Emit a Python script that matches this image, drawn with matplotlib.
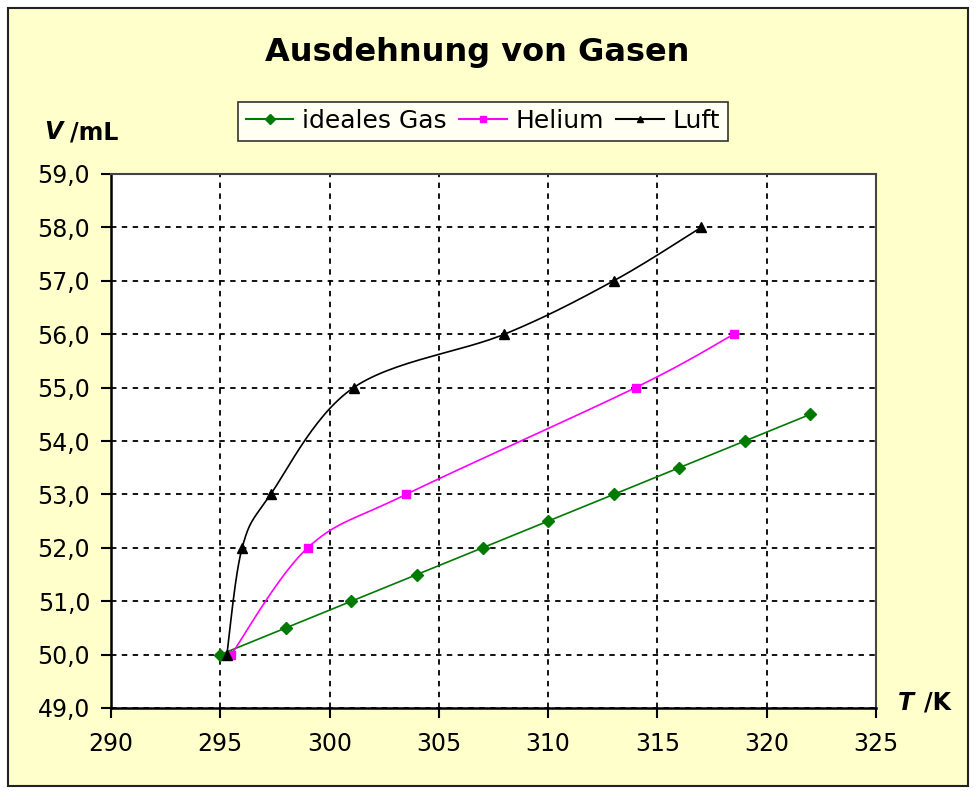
import numpy as np
import matplotlib
matplotlib.use("Agg")
import matplotlib.pyplot as plt
from matplotlib.patches import Rectangle

# ---- data ----
ideal_T = [295, 298, 301, 304, 307, 310, 313, 316, 319, 322]
ideal_V = [50.0, 50.5, 51.0, 51.5, 52.0, 52.5, 53.0, 53.5, 54.0, 54.5]
helium_T = [295.5, 299.0, 303.5, 314.0, 318.5]
helium_V = [50.0, 52.0, 53.0, 55.0, 56.0]
luft_T = [295.3, 296.0, 297.3, 301.1, 308.0, 313.0, 317.0]
luft_V = [50.0, 52.0, 53.0, 55.0, 56.0, 57.0, 58.0]
x_ticks = [290, 295, 300, 305, 310, 315, 320, 325]
y_ticks = [49, 50, 51, 52, 53, 54, 55, 56, 57, 58, 59]
y_tick_labels = ["49,0", "50,0", "51,0", "52,0", "53,0", "54,0", "55,0",
                 "56,0", "57,0", "58,0", "59,0"]
title = "Ausdehnung von Gasen"
series_names = ["ideales Gas", "Helium", "Luft"]

BG = "#FFFFCC"

fig = plt.figure(figsize=(9.76, 7.91), dpi=100)
fig.patch.set_facecolor("white")
# outer chart area
fig.patches.append(Rectangle((8/976, 1-786/791), (968-8)/976, (786-8)/791,
                             transform=fig.transFigure, facecolor=BG,
                             edgecolor="#222222", linewidth=1.5, zorder=-5))

ax = fig.add_axes([111/976, 1-708/791, (876-111)/976, (708-174)/791])
ax.set_zorder(2)
ax.set_facecolor("white")
ax.set_xlim(290, 325)
ax.set_ylim(49, 59)
ax.set_axisbelow(True)

W_px = 876-111
H_px = 708-174


def smooth(xs, ys, n=30):
    # Excel-like smoothed line: cubic Bezier with Catmull-Rom control points
    px = (np.asarray(xs) - 290) / 35 * W_px
    py = (np.asarray(ys) - 49) / 10 * H_px
    P = np.column_stack([px, py])
    m = len(P)
    out = [P[0]]
    for i in range(m - 1):
        p0 = P[i - 1] if i > 0 else P[i]
        p1 = P[i]
        p2 = P[i + 1]
        p3 = P[i + 2] if i + 2 < m else P[i + 1]
        c1 = p1 + (p2 - p0) / 6
        c2 = p2 - (p3 - p1) / 6
        t = np.linspace(0, 1, n)[1:, None]
        seg = ((1-t)**3)*p1 + 3*((1-t)**2)*t*c1 + 3*(1-t)*t**2*c2 + t**3*p2
        out.extend(seg)
    out = np.array(out)
    return out[:, 0] / W_px * 35 + 290, out[:, 1] / H_px * 10 + 49


series = [
    (ideal_T, ideal_V, "#007A00", "D", 6),
    (helium_T, helium_V, "#FF00FF", "s", 6),
    (luft_T, luft_V, "black", "^", 7),
]
handles = []
for (xs, ys, col, mk, ms), name in zip(series, series_names):
    sx, sy = smooth(xs, ys)
    ax.plot(sx, sy, color=col, lw=1.2, zorder=3)
    ax.plot(xs, ys, linestyle="none", marker=mk, color=col, ms=ms, zorder=4)
    h, = ax.plot([], [], color=col, lw=1.5, marker=mk, ms=5, label=name)
    handles.append(h)

ax.set_xticks(x_ticks)
ax.set_xticklabels([str(t) for t in x_ticks])
ax.set_yticks(y_ticks)
ax.set_yticklabels(y_tick_labels)
ax.grid(True, color="black", linestyle=(0, (3, 3)), linewidth=1.3)
ax.tick_params(direction="out", length=7, width=1.5, labelsize=17,
               colors="black")
ax.tick_params(axis="y", pad=8)
ax.tick_params(axis="x", pad=10)
for s in ["left", "bottom"]:
    ax.spines[s].set_color("black")
    ax.spines[s].set_linewidth(1.8)
for s in ["top", "right"]:
    ax.spines[s].set_color("#444444")
    ax.spines[s].set_linewidth(1.5)

fig.text(477/976, 1-52/791, title, ha="center", va="center",
         fontsize=23, fontweight="bold")
fig.text(44/976, 1-132/791, "V", fontsize=17, fontweight="bold",
         fontstyle="italic", ha="left", va="center")
fig.text(70/976, 1-132/791, "/mL", fontsize=17, fontweight="bold",
         ha="left", va="center")
fig.text(898/976, 1-703/791, "T", fontsize=17, fontweight="bold",
         fontstyle="italic", ha="left", va="center")
fig.text(924/976, 1-703/791, "/K", fontsize=17, fontweight="bold",
         ha="left", va="center")

leg = fig.legend(handles=handles, loc="center", ncol=3,
                 bbox_to_anchor=(483/976, 1-121/791), fontsize=18,
                 frameon=True, fancybox=False, handlelength=1.9,
                 handletextpad=0.35, columnspacing=0.5, borderpad=0.3,
                 borderaxespad=0)
leg.get_frame().set_edgecolor("black")
leg.get_frame().set_linewidth(1.2)

fig.savefig("out.png", dpi=100, facecolor=fig.get_facecolor())
